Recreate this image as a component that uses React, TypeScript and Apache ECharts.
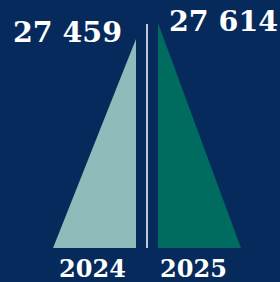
import React, { useEffect, useRef } from "react";
import * as echarts from "echarts";

const categories = ["2024", "2025"];
const values = [27459, 27614];
const valueLabels = ["27 459", "27 614"];
const colors = ["#8fbcbb", "#006b5f"];

const Y_MIN = 25430;
const Y_MAX = 27614;

export default function App() {
  const ref = useRef<HTMLDivElement>(null);
  useEffect(() => {
    if (!ref.current) return;
    const chart = echarts.init(ref.current, undefined, { renderer: "svg" });
    const yearStyle = {
      color: "#ffffff",
      fontFamily: "DejaVu Serif",
      fontWeight: "bold",
      fontSize: 24,
      lineHeight: 20,
    };
    chart.setOption({
      animation: false,
      backgroundColor: "#062a5c",
      grid: { left: 42, right: 28, top: 23, bottom: 34 },
      xAxis: {
        type: "category",
        data: categories,
        axisLine: { show: false },
        axisTick: { show: false },
        axisLabel: {
          margin: 10,
          formatter: (v: string, i: number) => (i === 0 ? `{a|${v}}` : `{b|${v}}`),
          rich: {
            a: { ...yearStyle, padding: [0, 4, 0, 0] },
            b: { ...yearStyle, padding: [0, 12, 0, 0] },
          },
        },
      },
      yAxis: {
        type: "value",
        min: Y_MIN,
        max: Y_MAX,
        show: false,
        splitLine: { show: false },
      },
      series: [
        {
          type: "custom",
          data: values.map((v, i) => [i, v]),
          renderItem: (params: any, api: any) => {
            const idx = api.value(0);
            const val = api.value(1);
            const top = api.coord([idx, val]);
            const bottom = api.coord([idx, Y_MIN]);
            const band = api.size([1, 0])[0];
            const half = band * 0.395;
            const cx = top[0];
            const isLeft = idx === 0;
            const vx = isLeft ? cx + half : cx - half;
            const ox = isLeft ? cx - half : cx + half;
            const children: any[] = [
              {
                type: "polygon",
                shape: {
                  points: [
                    [vx, top[1]],
                    [vx, bottom[1]],
                    [ox, bottom[1]],
                  ],
                },
                style: { fill: colors[idx] },
              },
              {
                type: "text",
                style: {
                  text: valueLabels[idx],
                  x: isLeft ? vx - 14 : vx + 11,
                  y: top[1] + (isLeft ? -7 : -2),
                  align: isLeft ? "right" : "left",
                  verticalAlign: "middle",
                  fill: "#ffffff",
                  fontFamily: "DejaVu Serif",
                  fontWeight: "bold",
                  fontSize: 28.5,
                },
              },
            ];
            if (isLeft) {
              const lineX = cx + band / 2;
              const yTop = api.coord([idx, Y_MAX])[1] + 1;
              children.push({
                type: "line",
                shape: { x1: lineX, y1: yTop, x2: lineX, y2: bottom[1] },
                style: { stroke: "#ffffff", lineWidth: 1.5 },
              });
            }
            return { type: "group", children };
          },
        },
      ],
    });
    return () => chart.dispose();
  }, []);
  return (
    <div
      ref={ref}
      style={{ position: "fixed", left: 0, top: 0, width: 280, height: 282 }}
    />
  );
}
